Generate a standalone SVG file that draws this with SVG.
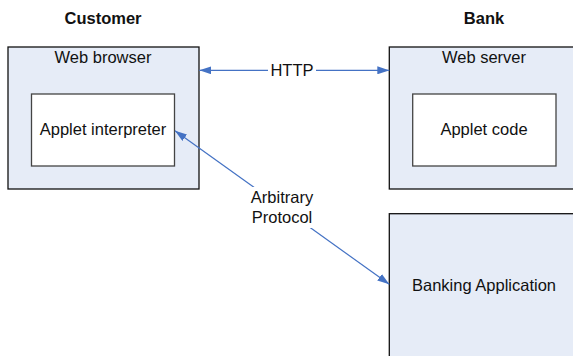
<svg xmlns="http://www.w3.org/2000/svg" width="573" height="356" viewBox="0 0 573 356">
<defs>
<marker id="ah" viewBox="0 0 12 8" refX="12" refY="4" markerWidth="12" markerHeight="8" markerUnits="userSpaceOnUse" orient="auto-start-reverse">
<path d="M0,0 L12,4 L0,8 Z" fill="#4472C4"/>
</marker>
<style>
.outer{fill:#E6ECF7;stroke:#111;stroke-width:1.3}
.inner{fill:#fff;stroke:#444;stroke-width:1.3}
.t{font-family:"Liberation Sans",Arial,sans-serif;font-size:16.5px;fill:#111;text-anchor:middle}
.h{font-weight:bold}
.c{stroke:#4472C4;stroke-width:1.2;fill:none;marker-start:url(#ah);marker-end:url(#ah)}
</style>
</defs>
<rect width="573" height="356" fill="#fff"/>
<text class="t h" x="103" y="24">Customer</text>
<text class="t h" x="484" y="24">Bank</text>
<g id="web-browser">
<rect class="outer" x="8" y="47" width="191" height="142"/>
<text class="t" x="103" y="63">Web browser</text>
</g>
<g id="applet-interpreter">
<rect class="inner" x="31.5" y="94" width="143" height="72"/>
<text class="t" x="103" y="135">Applet interpreter</text>
</g>
<g id="web-server">
<rect class="outer" x="389.3" y="47" width="200" height="142"/>
<text class="t" x="484" y="63">Web server</text>
</g>
<g id="applet-code">
<rect class="inner" x="412.7" y="94" width="143.3" height="72"/>
<text class="t" x="484" y="135">Applet code</text>
</g>
<g id="banking-application">
<rect class="outer" x="389.3" y="213.7" width="200" height="160"/>
<text class="t" x="484" y="290.5">Banking Application</text>
</g>
<g id="connectors">
<path class="c" d="M199.3,70.3 H389.3"/>
<rect x="268" y="60" width="48" height="20" fill="#fff"/>
<text class="t" x="292" y="76">HTTP</text>
<path class="c" d="M175,130.7 L389.3,284.3"/>
<rect x="246" y="187" width="72" height="41" fill="#fff"/>
<text class="t" x="282" y="203">Arbitrary</text>
<text class="t" x="282" y="222.5">Protocol</text>
</g>
</svg>
